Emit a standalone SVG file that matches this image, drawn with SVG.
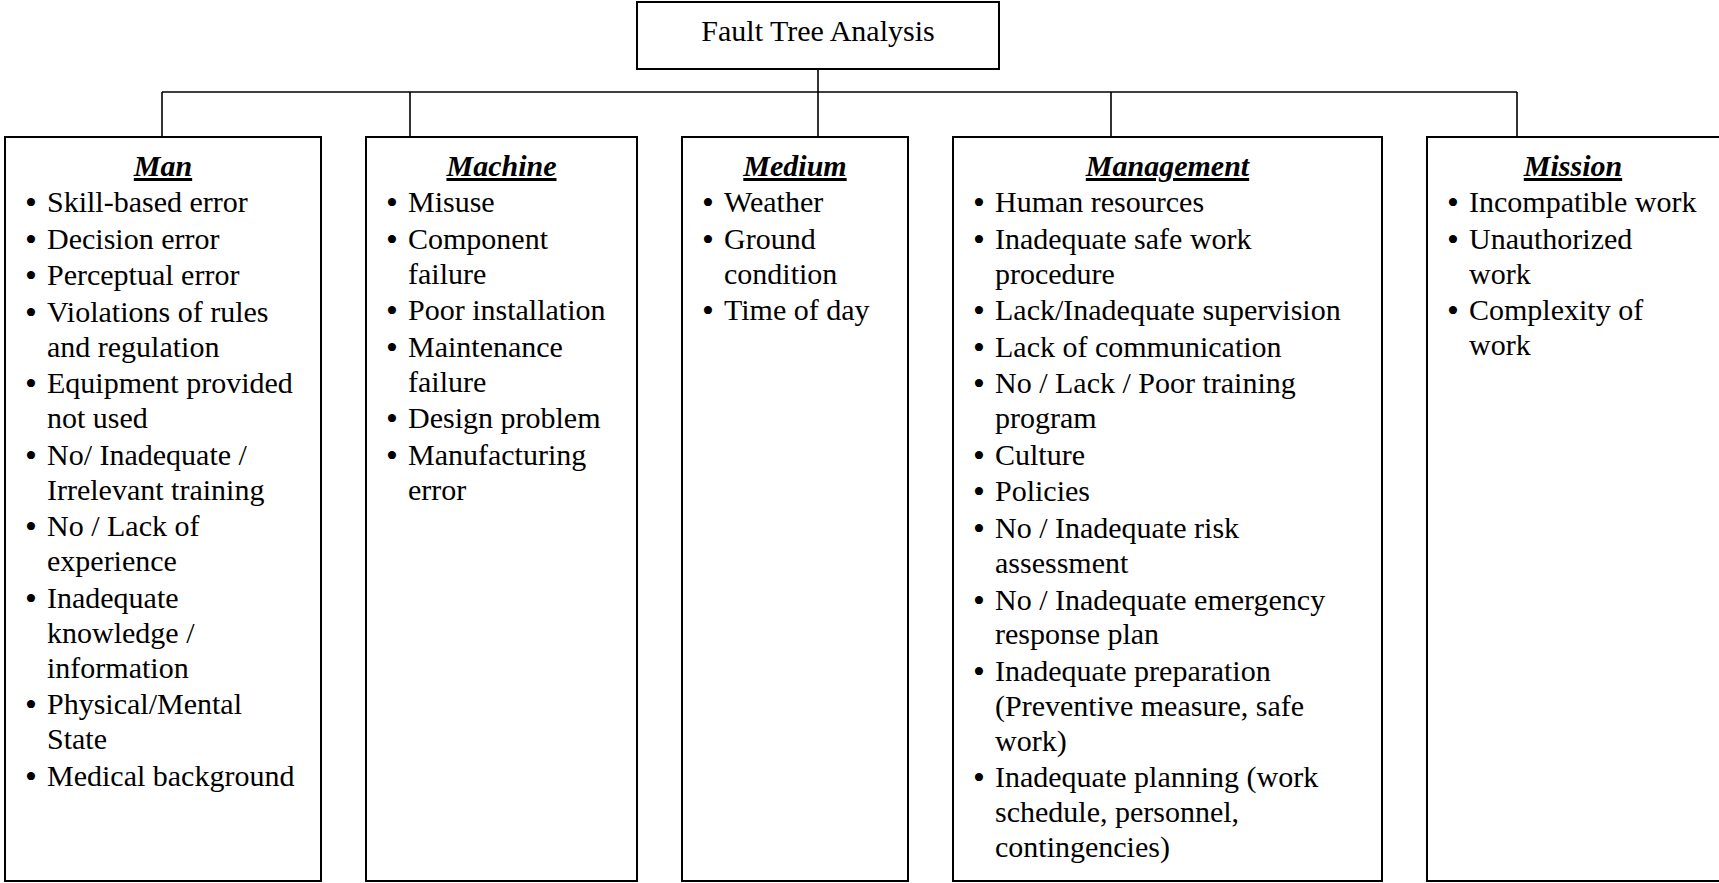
<svg xmlns="http://www.w3.org/2000/svg" width="1719" height="883" viewBox="0 0 1719 883">
<style>
.box{fill:#fff;stroke:#000;stroke-width:2}
.con{fill:none;stroke:#000;stroke-width:1.6}
text{font-family:"Liberation Serif","Times New Roman",serif;font-size:30px;fill:#000}
.h{font-weight:bold;font-style:italic;text-anchor:middle;text-decoration:underline}
.b{font-size:34px}
</style>
<rect width="1719" height="883" fill="#fff"/>
<g id="connectors">
<path class="con" d="M818 69V92M162 92H1517M162 92V137M410 92V137M818 92V137M1111 92V137M1517 92V137"/>
</g>
<g id="root">
<rect class="box" x="637" y="2" width="362" height="67"/>
<text x="818" y="41" text-anchor="middle">Fault Tree Analysis</text>
</g>
<g id="man">
<rect class="box" x="5" y="137" width="316" height="744"/>
<text class="h" x="163" y="176">Man</text>
<text><tspan class="b" x="25" y="214">•</tspan><tspan x="47" y="212">Skill-based error</tspan><tspan class="b" x="25" y="250.6">•</tspan><tspan x="47" y="248.6">Decision error</tspan><tspan class="b" x="25" y="287.2">•</tspan><tspan x="47" y="285.2">Perceptual error</tspan><tspan class="b" x="25" y="323.8">•</tspan><tspan x="47" y="321.8">Violations of rules</tspan><tspan x="47" y="356.7">and regulation</tspan><tspan class="b" x="25" y="395.3">•</tspan><tspan x="47" y="393.3">Equipment provided</tspan><tspan x="47" y="428.2">not used</tspan><tspan class="b" x="25" y="466.8">•</tspan><tspan x="47" y="464.8">No/ Inadequate /</tspan><tspan x="47" y="499.7">Irrelevant training</tspan><tspan class="b" x="25" y="538.3">•</tspan><tspan x="47" y="536.3">No / Lack of</tspan><tspan x="47" y="571.2">experience</tspan><tspan class="b" x="25" y="609.8">•</tspan><tspan x="47" y="607.8">Inadequate</tspan><tspan x="47" y="642.7">knowledge /</tspan><tspan x="47" y="677.6">information</tspan><tspan class="b" x="25" y="716.2">•</tspan><tspan x="47" y="714.2">Physical/Mental</tspan><tspan x="47" y="749.1">State</tspan><tspan class="b" x="25" y="787.7">•</tspan><tspan x="47" y="785.7">Medical background</tspan></text>
</g>
<g id="machine">
<rect class="box" x="366" y="137" width="271" height="744"/>
<text class="h" x="501.5" y="176">Machine</text>
<text><tspan class="b" x="386" y="214">•</tspan><tspan x="408" y="212">Misuse</tspan><tspan class="b" x="386" y="250.6">•</tspan><tspan x="408" y="248.6">Component</tspan><tspan x="408" y="283.5">failure</tspan><tspan class="b" x="386" y="322.1">•</tspan><tspan x="408" y="320.1">Poor installation</tspan><tspan class="b" x="386" y="358.7">•</tspan><tspan x="408" y="356.7">Maintenance</tspan><tspan x="408" y="391.6">failure</tspan><tspan class="b" x="386" y="430.2">•</tspan><tspan x="408" y="428.2">Design problem</tspan><tspan class="b" x="386" y="466.8">•</tspan><tspan x="408" y="464.8">Manufacturing</tspan><tspan x="408" y="499.7">error</tspan></text>
</g>
<g id="medium">
<rect class="box" x="682" y="137" width="226" height="744"/>
<text class="h" x="795" y="176">Medium</text>
<text><tspan class="b" x="702" y="214">•</tspan><tspan x="724" y="212">Weather</tspan><tspan class="b" x="702" y="250.6">•</tspan><tspan x="724" y="248.6">Ground</tspan><tspan x="724" y="283.5">condition</tspan><tspan class="b" x="702" y="322.1">•</tspan><tspan x="724" y="320.1">Time of day</tspan></text>
</g>
<g id="management">
<rect class="box" x="953" y="137" width="429" height="744"/>
<text class="h" x="1167.5" y="176">Management</text>
<text><tspan class="b" x="973" y="214">•</tspan><tspan x="995" y="212">Human resources</tspan><tspan class="b" x="973" y="250.6">•</tspan><tspan x="995" y="248.6">Inadequate safe work</tspan><tspan x="995" y="283.5">procedure</tspan><tspan class="b" x="973" y="322.1">•</tspan><tspan x="995" y="320.1">Lack/Inadequate supervision</tspan><tspan class="b" x="973" y="358.7">•</tspan><tspan x="995" y="356.7">Lack of communication</tspan><tspan class="b" x="973" y="395.3">•</tspan><tspan x="995" y="393.3">No / Lack / Poor training</tspan><tspan x="995" y="428.2">program</tspan><tspan class="b" x="973" y="466.8">•</tspan><tspan x="995" y="464.8">Culture</tspan><tspan class="b" x="973" y="503.4">•</tspan><tspan x="995" y="501.4">Policies</tspan><tspan class="b" x="973" y="540">•</tspan><tspan x="995" y="538">No / Inadequate risk</tspan><tspan x="995" y="572.9">assessment</tspan><tspan class="b" x="973" y="611.5">•</tspan><tspan x="995" y="609.5">No / Inadequate emergency</tspan><tspan x="995" y="644.4">response plan</tspan><tspan class="b" x="973" y="683">•</tspan><tspan x="995" y="681">Inadequate preparation</tspan><tspan x="995" y="715.9">(Preventive measure, safe</tspan><tspan x="995" y="750.8">work)</tspan><tspan class="b" x="973" y="789.4">•</tspan><tspan x="995" y="787.4">Inadequate planning (work</tspan><tspan x="995" y="822.3">schedule, personnel,</tspan><tspan x="995" y="857.2">contingencies)</tspan></text>
</g>
<g id="mission">
<rect class="box" x="1427" y="137" width="295" height="744"/>
<text class="h" x="1573" y="176">Mission</text>
<text><tspan class="b" x="1447" y="214">•</tspan><tspan x="1469" y="212">Incompatible work</tspan><tspan class="b" x="1447" y="250.6">•</tspan><tspan x="1469" y="248.6">Unauthorized</tspan><tspan x="1469" y="283.5">work</tspan><tspan class="b" x="1447" y="322.1">•</tspan><tspan x="1469" y="320.1">Complexity of</tspan><tspan x="1469" y="355">work</tspan></text>
</g>
</svg>
